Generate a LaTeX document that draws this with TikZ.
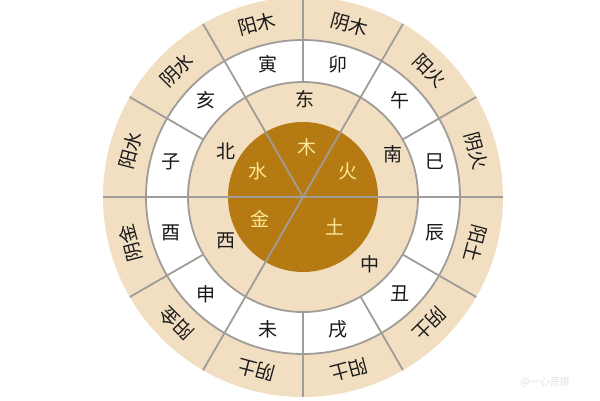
\documentclass[tikz,border=0pt]{standalone}
\usepackage{fontspec}
\newfontfamily\cjk{Noto Sans CJK SC}
\definecolor{tanbg}{RGB}{242,222,193}
\definecolor{corebrown}{RGB}{181,122,18}
\definecolor{coretext}{RGB}{252,232,150}
\definecolor{linegray}{RGB}{160,156,152}
\tikzset{
  ring/.style={draw=linegray, line width=1.8pt},
  ray/.style={linegray, line width=1.8pt},
  lbl/.style={font=\cjk\fontsize{19}{19}\selectfont, text=black!90, inner sep=0pt},
  corelbl/.style={lbl, text=coretext},
}
\begin{document}
\begin{tikzpicture}[x=1pt, y=1pt]
\useasboundingbox (-303,-203) rectangle (297,197);
\fill[tanbg] (0,0) circle (200);
\fill[white] (0,0) circle (157);
\fill[tanbg] (0,0) circle (115);
\fill[corebrown] (0,0) circle (75);
\draw[ring] (0,0) circle (157);
\draw[ring] (0,0) circle (115);
\coordinate (O) at (0,0);
\foreach \a in {0,60,120,180,240} {
  \coordinate (R\a) at (\a:200);
  \draw[ray] (O) -- (R\a);
}
\foreach \a in {30,90,150,210,270,300,330} {
  \coordinate (S\a) at (\a:115);
  \coordinate (T\a) at (\a:200);
  \draw[ray] (S\a) -- (T\a);
}
\node[corelbl] (mu) at (4,50) {木};
\node[corelbl] (huo) at (45,26) {火};
\node[corelbl] (shui) at (-45,26) {水};
\node[corelbl] (jin) at (-43,-22) {金};
\node[corelbl] (tu) at (32,-30) {土};
\node[lbl] (dong) at (2,98) {东};
\node[lbl] (nan) at (90,43) {南};
\node[lbl] (zhong) at (67,-67) {中};
\node[lbl] (xi) at (-77,-44) {西};
\node[lbl] (bei) at (-77,46) {北};
\foreach \a/\t [count=\i] in {75/卯,105/寅,135/亥,165/子,195/酉,225/申,255/未,285/戌,315/丑,345/辰,15/巳,45/午}
  \node[lbl] (z\i) at (\a:137) {\t};
\foreach \a/\t [count=\i] in {75/阴木,105/阳木,135/阴水,165/阳水,195/阴金,225/阳金,255/阴土,285/阳土,315/阴土,345/阳土,15/阴火,45/阳火}
  \node[lbl, rotate=\a-90] (w\i) at (\a:179) {\t};
\node[font=\cjk\fontsize{10}{10}\selectfont, text=black!12] (mark) at (242,-185) {@一心菩提};
\end{tikzpicture}
\end{document}
